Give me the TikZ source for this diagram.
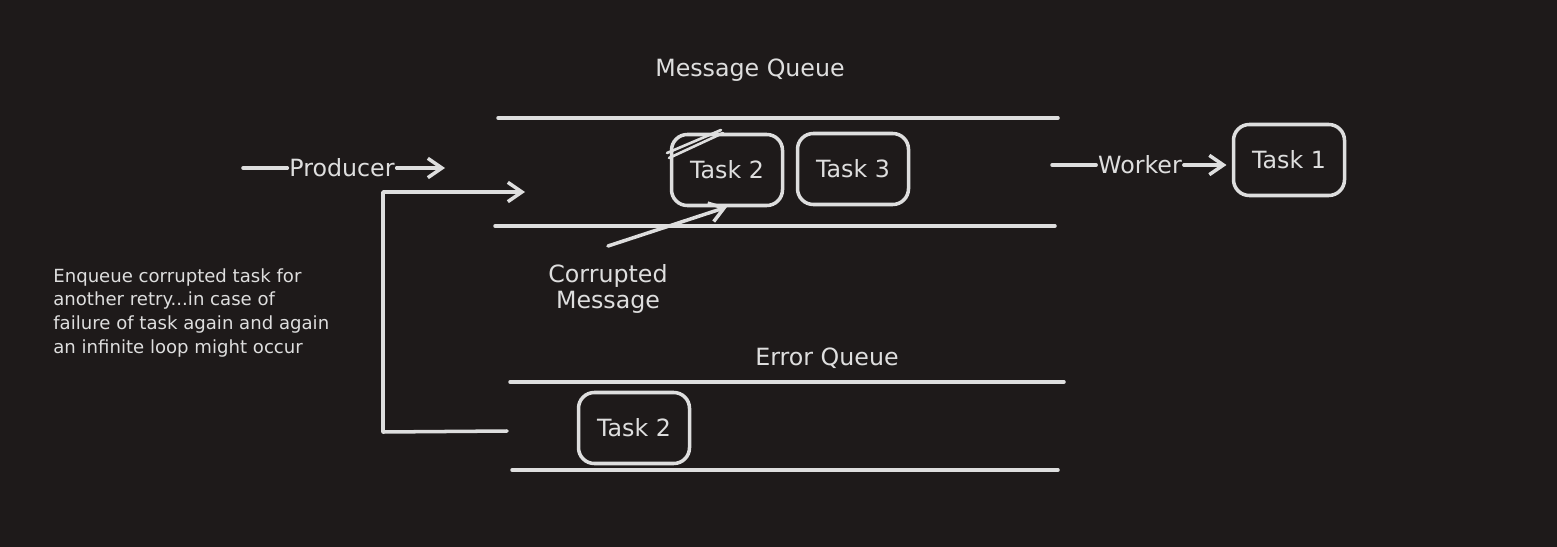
\documentclass[tikz,border=0pt]{standalone}
\usepackage{fontspec}
\setmainfont{DejaVu Sans}
\usetikzlibrary{arrows.meta}
\definecolor{bg}{RGB}{30,26,26}
\definecolor{ink}{RGB}{222,222,222}
\begin{document}
\begin{tikzpicture}[x=0.02cm,y=-0.02cm,
  line/.style={draw=ink,line width=2pt,line cap=round,line join=round},
  arr/.style={line,-{Straight Barb[length=8pt,width=11pt,line width=2pt]}},
  task/.style={draw=ink,line width=2pt,rounded corners=9pt,text=ink,minimum width=111*0.02cm,minimum height=71*0.02cm,inner sep=0pt,font=\fontsize{13.5}{15}\selectfont},
  lbl/.style={text=ink,font=\fontsize{13.5}{15}\selectfont,inner sep=1pt}]
\fill[bg] (0,0) rectangle (1557,547);
\useasboundingbox (0,0) rectangle (1557,547);
% Message queue
\node[lbl] (mqlabel) at (750,70) {Message Queue};
\coordinate (mqa) at (498,118); \coordinate (mqb) at (1058,118);
\coordinate (mqc) at (495,226); \coordinate (mqd) at (1055,226);
\draw[line] (mqa) -- (mqb);
\draw[line] (mqc) -- (mqd);
\node[task] (t2) at (727,170) {Task 2};
\node[task] (t3) at (853,169) {Task 3};
\coordinate (s1a) at (667,153); \coordinate (s1b) at (721,130);
\coordinate (s2a) at (669,158); \coordinate (s2b) at (723,133);
\draw[line,line width=1.5pt] (s1a) -- (s1b);
\draw[line,line width=1.5pt] (s2a) -- (s2b);
% Producer
\node[lbl] (prod) at (342,168) {Producer};
\coordinate (p0) at (243,168); \coordinate (p1) at (445,168);
\draw[line] (p0) -- (prod.west);
\draw[arr] (prod.east) -- (p1);
% Worker
\node[lbl] (work) at (1140,165) {Worker};
\coordinate (w0) at (1052,165);
\node[task] (t1) at (1289,160) {Task 1};
\draw[line] (w0) -- (work.west);
\draw[arr,shorten >=3pt] (work.east) -- (t1.west |- work.east);
% Corrupted message
\node[lbl,align=center] (corr) at (608,289) {Corrupted\\Message};
\coordinate (c0) at (608,246);
\draw[arr] (c0) -- (727,207);
% Error queue
\node[lbl] (eqlabel) at (827,358) {Error Queue};
\coordinate (eqa) at (510,382); \coordinate (eqb) at (1064,382);
\coordinate (eqc) at (512,470); \coordinate (eqd) at (1058,470);
\draw[line] (eqa) -- (eqb);
\draw[line] (eqc) -- (eqd);
\node[task] (te2) at (634,428) {Task 2};
% Feedback loop
\coordinate (f0) at (507,431); \coordinate (f1) at (525,192);
\draw[arr] (f0) -- (383,432) -- (383,192) -- (f1);
% Note
\node[text=ink,anchor=north west,align=left,inner sep=0pt,font=\fontsize{10.3}{13.6}\selectfont] (note) at (53,268)
 {Enqueue corrupted task for\\another retry...in case of\\failure of task again and again\\an infinite loop might occur};
\end{tikzpicture}
\end{document}
